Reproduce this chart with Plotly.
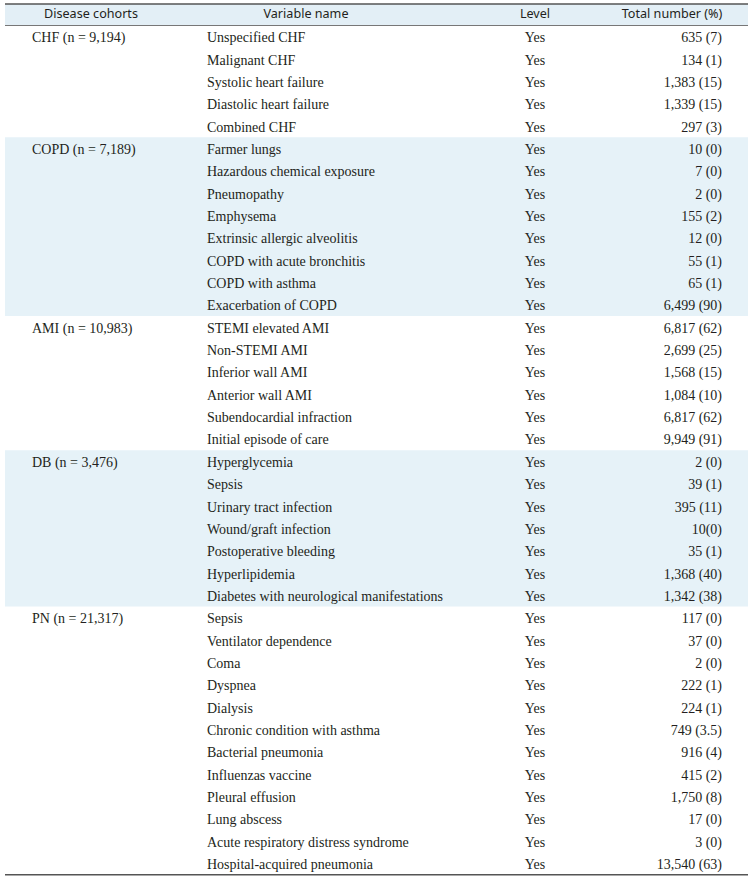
import plotly.graph_objects as go

headers = ["Disease cohorts", "Variable name", "Level", "Total number (%)"]

cohorts = ["CHF (n = 9,194)", "COPD (n = 7,189)", "AMI (n = 10,983)",
           "DB (n = 3,476)", "PN (n = 21,317)"]
cohort_sizes = [5, 8, 6, 7, 12]

variables = [
    # CHF
    "Unspecified CHF", "Malignant CHF", "Systolic heart failure",
    "Diastolic heart failure", "Combined CHF",
    # COPD
    "Farmer lungs", "Hazardous chemical exposure", "Pneumopathy", "Emphysema",
    "Extrinsic allergic alveolitis", "COPD with acute bronchitis",
    "COPD with asthma", "Exacerbation of COPD",
    # AMI
    "STEMI elevated AMI", "Non-STEMI AMI", "Inferior wall AMI",
    "Anterior wall AMI", "Subendocardial infraction", "Initial episode of care",
    # DB
    "Hyperglycemia", "Sepsis", "Urinary tract infection", "Wound/graft infection",
    "Postoperative bleeding", "Hyperlipidemia",
    "Diabetes with neurological manifestations",
    # PN
    "Sepsis", "Ventilator dependence", "Coma", "Dyspnea", "Dialysis",
    "Chronic condition with asthma", "Bacterial pneumonia", "Influenzas vaccine",
    "Pleural effusion", "Lung abscess", "Acute respiratory distress syndrome",
    "Hospital-acquired pneumonia",
]

levels = ["Yes"] * len(variables)

totals = [
    "635 (7)", "134 (1)", "1,383 (15)", "1,339 (15)", "297 (3)",
    "10 (0)", "7 (0)", "2 (0)", "155 (2)", "12 (0)", "55 (1)", "65 (1)", "6,499 (90)",
    "6,817 (62)", "2,699 (25)", "1,568 (15)", "1,084 (10)", "6,817 (62)", "9,949 (91)",
    "2 (0)", "39 (1)", "395 (11)", "10(0)", "35 (1)", "1,368 (40)", "1,342 (38)",
    "117 (0)", "37 (0)", "2 (0)", "222 (1)", "224 (1)", "749 (3.5)", "916 (4)",
    "415 (2)", "1,750 (8)", "17 (0)", "3 (0)", "13,540 (63)",
]

# ---- layout constants (pixels of the 755x877 page) ----
W, H = 755, 877
TOP = 4.0          # top rule position
HEAD_H = 21.5      # header row height
PITCH = 22.35      # data row height
TEXT_DY = 0.09     # small downward nudge of body text within its row
X0, X1 = 5, 748
SERIF = "Liberation Serif"
SANS = "Noto Sans"
TXT = "#231f20"
BAND = "#e6f2f8"
HEAD = "#e3eff6"

n_rows = len(variables)
rows = list(range(1, n_rows + 1))
text_rows = [r + TEXT_DY for r in rows]

# cohort labels only on first row of each group
cohort_col = []
for c, s in zip(cohorts, cohort_sizes):
    for j in range(s):
        cohort_col.append(c if j == 0 else "")

head_top = 0.5 - HEAD_H / PITCH
head_mid = 0.5 - HEAD_H / (2 * PITCH)
y_top = head_top - TOP / PITCH
y_bot = y_top + H / PITCH

fig = go.Figure()

font_body = dict(family=SERIF, size=14, color=TXT)
font_head = dict(family=SANS, size=12.6, color=TXT)

fig.add_trace(go.Scatter(x=[32] * n_rows, y=text_rows, text=cohort_col, mode="text",
                         textposition="middle right", textfont=font_body))
fig.add_trace(go.Scatter(x=[207] * n_rows, y=text_rows, text=variables, mode="text",
                         textposition="middle right", textfont=font_body))
fig.add_trace(go.Scatter(x=[535] * n_rows, y=text_rows, text=levels, mode="text",
                         textposition="middle center", textfont=font_body))
fig.add_trace(go.Scatter(x=[722] * n_rows, y=text_rows, text=totals, mode="text",
                         textposition="middle left", textfont=font_body))
fig.add_trace(go.Scatter(x=[91, 306, 535, 672], y=[head_mid] * 4, text=headers,
                         mode="text", textposition="middle center", textfont=font_head))

shapes = []
# header fill
shapes.append(dict(type="rect", xref="x", yref="y", x0=X0, x1=X1, y0=head_top, y1=0.5,
                   fillcolor=HEAD, line=dict(width=0), layer="below"))
# group bands
start = 1
for gi, s in enumerate(cohort_sizes):
    if gi % 2 == 1:
        shapes.append(dict(type="rect", xref="x", yref="y", x0=X0, x1=X1,
                           y0=start - 0.5, y1=start + s - 0.5,
                           fillcolor=BAND, line=dict(width=0), layer="below"))
    start += s
# rules
shapes.append(dict(type="line", xref="x", yref="y", x0=X0, x1=X1, y0=head_top, y1=head_top,
                   line=dict(color="#555555", width=1.6)))
shapes.append(dict(type="line", xref="x", yref="y", x0=X0, x1=X1, y0=0.5, y1=0.5,
                   line=dict(color="#777777", width=1)))
shapes.append(dict(type="line", xref="x", yref="y", x0=X0, x1=X1,
                   y0=n_rows + 0.5, y1=n_rows + 0.5,
                   line=dict(color="#555555", width=1.6)))

fig.update_layout(
    width=W, height=H,
    margin=dict(l=0, r=0, t=0, b=0),
    paper_bgcolor="white", plot_bgcolor="white",
    showlegend=False, hovermode=False,
    shapes=shapes,
    xaxis=dict(range=[0, W], visible=False, fixedrange=True),
    yaxis=dict(range=[y_bot, y_top], visible=False, fixedrange=True),
)

fig.write_html("out.html", config={"displayModeBar": False},
               post_script="document.body.style.margin='0';")
